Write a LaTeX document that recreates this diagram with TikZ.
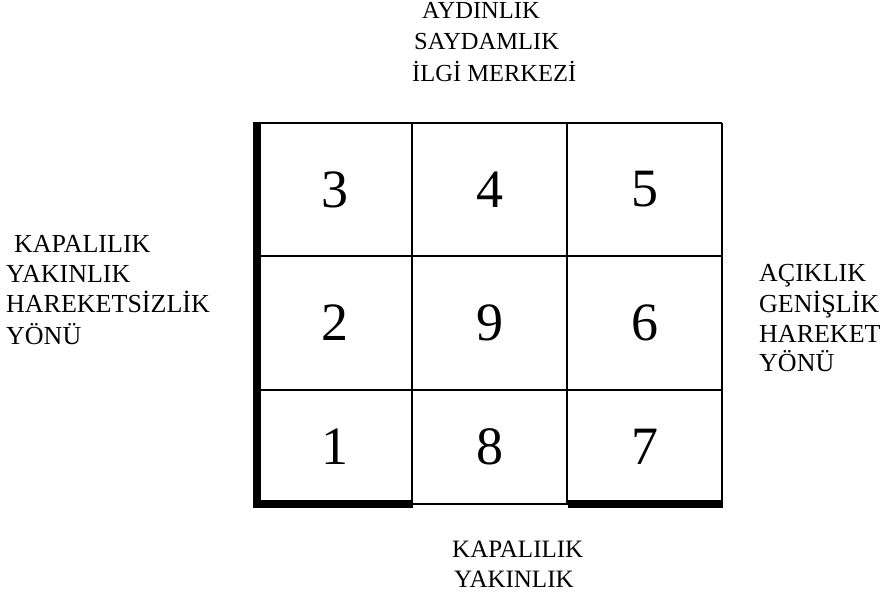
\documentclass[tikz,border=0pt]{standalone}
\usepackage{fontspec}
\setmainfont{Liberation Serif}
\begin{document}
\begin{tikzpicture}[x=1pt,y=-1pt,
  thinline/.style={line width=1.7pt,black},
  thickline/.style={line width=7.5pt,black},
  num/.style={inner sep=0pt,font=\fontsize{54}{60}\selectfont},
  lbl/.style={inner sep=0pt,anchor=base west,font=\fontsize{26}{30}\selectfont},
  toplbl/.style={inner sep=0pt,anchor=base west,font=\fontsize{24.5}{30}\selectfont}]
\useasboundingbox (0,0) rectangle (889,601);
% grid corner coordinates
\coordinate (tl) at (257,123);
\coordinate (tr) at (722,123);
\coordinate (bl) at (257,504);
\coordinate (br) at (722,504);
\coordinate (c1t) at (412,123);
\coordinate (c1b) at (412,504);
\coordinate (c2t) at (567,123);
\coordinate (c2b) at (567,504);
\coordinate (r1l) at (257,256);
\coordinate (r1r) at (722,256);
\coordinate (r2l) at (257,390);
\coordinate (r2r) at (722,390);
% thin grid
\draw[thinline] (tl) -- (tr);
\draw[thinline] (bl) -- (br);
\draw[line width=2.4pt] (tr) -- (br);
\draw[thinline] (c1t) -- (c1b);
\draw[thinline] (c2t) -- (c2b);
\draw[thinline] (r1l) -- (r1r);
\draw[thinline] (r2l) -- (r2r);
% thick borders
\coordinate (ltop) at (257,122);
\coordinate (lbot) at (257,508);
\draw[thickline] (ltop) -- (lbot);
\coordinate (b1a) at (253,504);
\coordinate (b1b) at (413,504);
\draw[thickline] (b1a) -- (b1b);
\coordinate (b2a) at (568,504);
\coordinate (b2b) at (723,504);
\draw[thickline] (b2a) -- (b2b);
% numbers
\node[num] (n3) at (334.5,189.5) {3};
\node[num] (n4) at (489.5,189.5) {4};
\node[num] (n5) at (644.5,189.5) {5};
\node[num] (n2) at (334.5,323) {2};
\node[num] (n9) at (489.5,323) {9};
\node[num] (n6) at (644.5,323) {6};
\node[num] (n1) at (334.5,447) {1};
\node[num] (n8) at (489.5,447) {8};
\node[num] (n7) at (644.5,447) {7};
% top labels
\node[toplbl] (t1) at (422,19) {AYDINLIK};
\node[toplbl] (t2) at (414,50) {SAYDAMLIK};
\node[toplbl] (t3) at (412,82) {İLGİ MERKEZİ};
% left labels
\node[lbl] (l1) at (14,253) {KAPALILIK};
\node[lbl] (l2) at (6,283) {YAKINLIK};
\node[lbl] (l3) at (6,313) {HAREKETSİZLİK};
\node[lbl] (l4) at (6,345) {YÖNÜ};
% right labels
\node[lbl] (r1) at (759,282) {AÇIKLIK};
\node[lbl] (r2) at (759,313) {GENİŞLİK};
\node[lbl] (r3) at (759,343) {HAREKET};
\node[lbl] (r4) at (759,372) {YÖNÜ};
% bottom labels
\node[lbl,font=\fontsize{25}{30}\selectfont] (b1) at (452,557) {KAPALILIK};
\node[lbl,font=\fontsize{25}{30}\selectfont] (b2) at (454,587) {YAKINLIK};
\end{tikzpicture}
\end{document}
